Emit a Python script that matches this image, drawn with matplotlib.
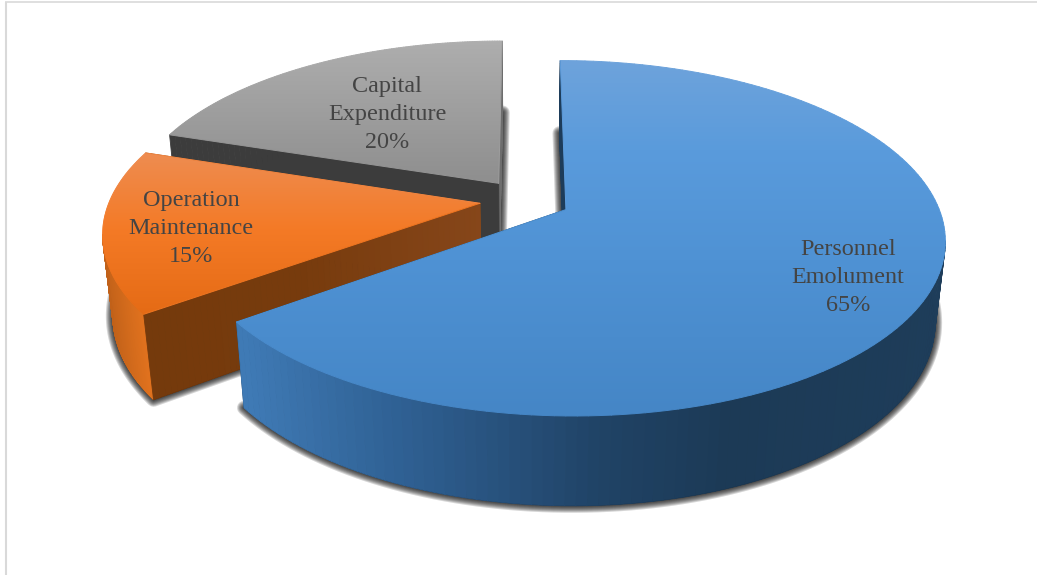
import numpy as np
import matplotlib
matplotlib.use("Agg")
import matplotlib.pyplot as plt
from matplotlib.collections import LineCollection
from matplotlib.colors import to_rgb
from matplotlib.patches import Polygon

# Budget shares, clockwise from twelve o'clock
CATEGORIES = ["Personnel\nEmolument", "Operation\nMaintenance", "Capital\nExpenditure"]
SHARES = [65, 15, 20]
LABELS = ["65%", "15%", "20%"]

LABEL_POS = [(848, 277.5), (191, 228.5), (387, 114.5)]

# Vertical gradients of the top faces: (y pixel, colour)
TOP_STOPS = [
    [(60, "#6ea3db"), (150, "#5a9bdc"), (260, "#4f92d4"), (415, "#4586c6")],
    [(155, "#ee8c50"), (230, "#f47a26"), (320, "#e46a14")],
    [(41, "#aeaeae"), (180, "#8f8f8f")],
]
# Horizontal gradients of the rim: (x pixel, colour)
RIM_STOPS = [
    [(245, "#3f7ab5"), (400, "#2f6093"), (600, "#204366"), (730, "#1c3a56"), (945, "#1e3d5a")],
    [(100, "#bf6019"), (150, "#e8761f")],
    [(160, "#777777"), (500, "#777777")],
]
# Cut faces: one for the leading edge of a slice, one for the trailing edge
START_FACE = [
    [(555, "#1d3c5a"), (570, "#1d3c5a")],
    [(140, "#753a0c"), (300, "#773b0d"), (480, "#86461a")],
    [(160, "#3c3c3c"), (500, "#3c3c3c")],
]
END_FACE = [
    [(230, "#1d3c5a"), (570, "#1d3c5a")],
    [(140, "#9a5015"), (480, "#9a5015")],
    [(495, "#6d6d6d"), (510, "#6d6d6d")],
]

EXPLODE = 0.123
CENTER_X, CENTER_Y = 525, 200
SCALE_X, SCALE_Y = 370, 170
TILT = 0.16
DEPTH = 82
DEPTH_SHRINK = 0.024


def project(u, v, z):
    """Perspective projection of pie-plane coordinates, v towards the viewer."""
    w = 1 - TILT * v + DEPTH_SHRINK * z
    return CENTER_X + SCALE_X * u / w, CENTER_Y + (SCALE_Y * v + DEPTH * z) / w


def stop_colors(values, stops):
    pos = [s[0] for s in stops]
    rgb = np.array([to_rgb(s[1]) for s in stops])
    return np.column_stack([np.interp(values, pos, rgb[:, i]) for i in range(3)])


def draw_strip(ax, x0, y0, x1, y1, stops, zorder, front_only=False):
    # Side faces are a run of thin quads so the colour can change along x
    colors = stop_colors((x0[:-1] + x0[1:]) / 2, stops)
    for i in range(len(x0) - 1):
        # moving clockwise, the rim faces the viewer only while x is falling
        if front_only and x0[i + 1] >= x0[i]:
            continue
        quad = [(x0[i], y0[i]), (x0[i + 1], y0[i + 1]), (x1[i + 1], y1[i + 1]), (x1[i], y1[i])]
        ax.add_patch(Polygon(quad, closed=True, facecolor=colors[i], edgecolor=colors[i],
                             linewidth=0.6, zorder=zorder))


def draw_top(ax, outline, stops, zorder):
    ymin, ymax = outline[:, 1].min(), outline[:, 1].max()
    ys = np.linspace(ymin, ymax, 256)
    grad = stop_colors(ys, stops)[:, None, :]
    im = ax.imshow(grad, extent=(outline[:, 0].min(), outline[:, 0].max(), ymax, ymin),
                   aspect="auto", interpolation="bilinear", zorder=zorder)
    im.set_clip_path(Polygon(outline, closed=True, transform=ax.transData))

    # image clipping is hard-edged, so run a fine stroke round the outline
    closed = np.vstack([outline, outline[:1]])
    segs = np.stack([closed[:-1], closed[1:]], axis=1)
    edge = LineCollection(segs, colors=stop_colors(segs[:, :, 1].mean(axis=1), stops),
                          linewidths=0.7, capstyle="round", zorder=zorder)
    ax.add_collection(edge)


fig = plt.figure(figsize=(10.37, 5.75), dpi=100, facecolor="white")
ax = fig.add_axes([0, 0, 1, 1])

fractions = np.array(SHARES) / sum(SHARES)
edges = np.concatenate([[0], np.cumsum(fractions)]) * 2 * np.pi

# Soft shadows first so that no slice is darkened by another one's shadow
slices = []
for i in range(len(SHARES)):
    t0, t1 = edges[i], edges[i + 1]
    mid = (t0 + t1) / 2
    off_u, off_v = EXPLODE * np.sin(mid), -EXPLODE * np.cos(mid)
    t = np.linspace(t0, t1, 160)
    rim_u, rim_v = off_u + np.sin(t), off_v - np.cos(t)
    slices.append((off_u, off_v, rim_u, rim_v))

    bx, by = project(rim_u, rim_v, 1)
    ax_, ay_ = project(off_u, off_v, 1)
    bottom = np.column_stack([np.r_[ax_, bx], np.r_[ay_, by]])
    for width in range(1, 8):
        ax.add_patch(Polygon(bottom, closed=True, facecolor="black", edgecolor="black",
                             linewidth=width * 2 * 0.72, alpha=0.16, joinstyle="round", zorder=1))

# Painter's order: capital at the back, then operation, personnel in front
zorder = 2
for i in [2, 1, 0]:
    off_u, off_v, rim_u, rim_v = slices[i]
    f = np.linspace(0, 1, 60)

    # trailing cut, then rim, then leading cut, which sits nearest the viewer
    fu, fv = off_u + f * (rim_u[-1] - off_u), off_v + f * (rim_v[-1] - off_v)
    draw_strip(ax, *project(fu, fv, 0), *project(fu, fv, 1), END_FACE[i], zorder)
    zorder += 1

    draw_strip(ax, *project(rim_u, rim_v, 0), *project(rim_u, rim_v, 1), RIM_STOPS[i], zorder,
               front_only=True)
    zorder += 1

    fu, fv = off_u + f * (rim_u[0] - off_u), off_v + f * (rim_v[0] - off_v)
    draw_strip(ax, *project(fu, fv, 0), *project(fu, fv, 1), START_FACE[i], zorder)
    zorder += 1

    tx, ty = project(rim_u, rim_v, 0)
    cx_, cy_ = project(off_u, off_v, 0)
    draw_top(ax, np.column_stack([np.r_[cx_, tx], np.r_[cy_, ty]]), TOP_STOPS[i], zorder)
    zorder += 1

for name, pct, pos in zip(CATEGORIES, LABELS, LABEL_POS):
    ax.text(pos[0], pos[1], name + "\n" + pct, ha="center", va="center", ma="center",
            family="Liberation Serif", fontsize=17.4, color="#444444", linespacing=1.41,
            zorder=zorder)

# Thin frame along the top and left of the chart area
ax.plot([6, 6], [575, 2], color="#d9d9d9", linewidth=1.5, solid_capstyle="butt", zorder=zorder)
ax.plot([5, 1037], [2, 2], color="#d9d9d9", linewidth=1.2, solid_capstyle="butt", zorder=zorder)

ax.set_xlim(0, 1037)
ax.set_ylim(575, 0)
ax.axis("off")

fig.savefig("out.png", dpi=100)
